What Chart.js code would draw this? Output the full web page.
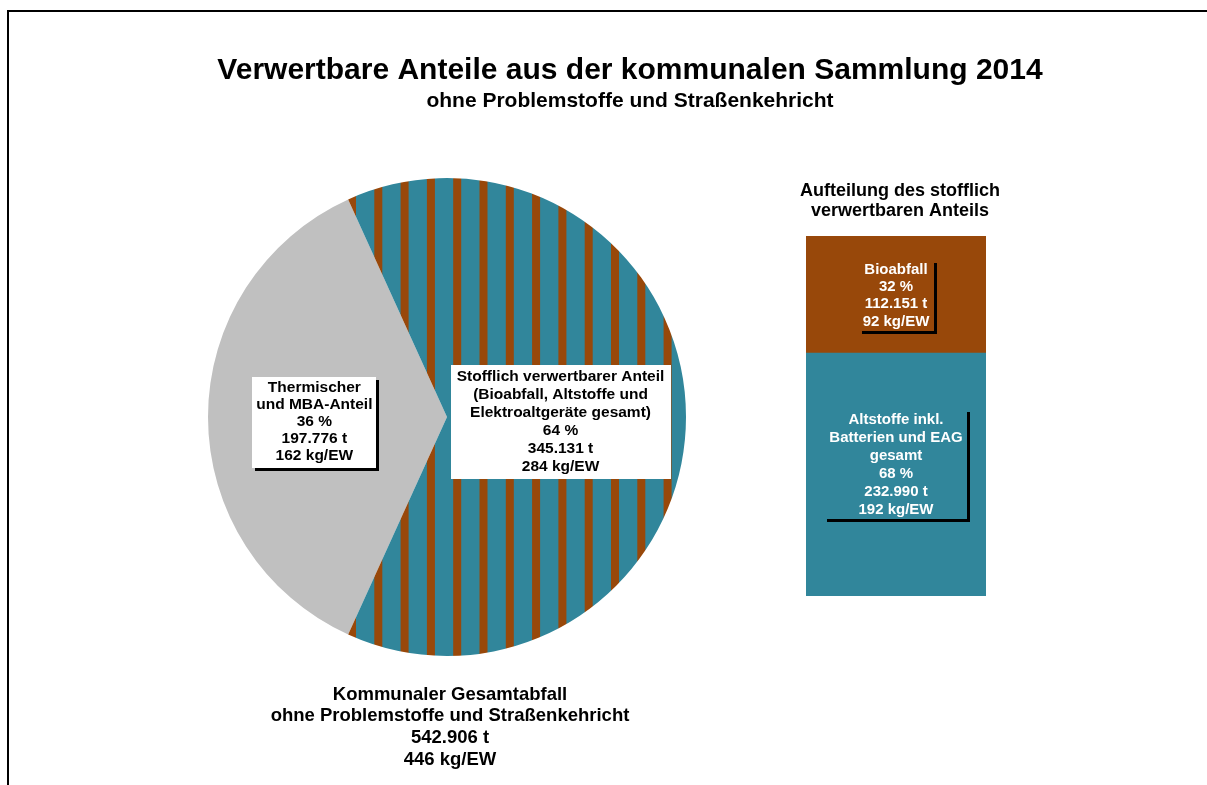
<!DOCTYPE html>
<html>
<head>
<meta charset="utf-8">
<title>Verwertbare Anteile aus der kommunalen Sammlung 2014</title>
<script src="https://cdn.jsdelivr.net/npm/chart.js"></script>
<style>
  body { margin: 0; background: #fff; }
  #pieChart { position: absolute; left: 0; top: 0; }
  #barChart { position: absolute; left: 790px; top: 170px; }
</style>
</head>
<body>
<canvas id="pieChart" width="1207" height="785"></canvas>
<canvas id="barChart" width="220" height="440"></canvas>
<script>
// --- data ---
const titleText = "Verwertbare Anteile aus der kommunalen Sammlung 2014";
const subtitleText = "ohne Problemstoffe und Straßenkehricht";

const pieNames = [
	["Thermischer", "und MBA-Anteil"],
	["Stofflich verwertbarer Anteil", "(Bioabfall, Altstoffe und", "Elektroaltgeräte gesamt)"],
];
const pieTonnes = [197776, 345131];
const piePercent = [36, 64];
const pieKgEW = [162, 284];

const totalName = ["Kommunaler Gesamtabfall", "ohne Problemstoffe und Straßenkehricht"];
const totalTonnes = 542906;
const totalKgEW = 446;

const barHeading = ["Aufteilung des stofflich", "verwertbaren Anteils"];
const barNames = [["Altstoffe inkl.", "Batterien und EAG", "gesamt"], ["Bioabfall"]];
const barTonnes = [232990, 112151];
const barPercent = [68, 32];
const barKgEW = [192, 92];

// --- styles ---
const TEAL = "rgb(49, 134, 155)";
const BROWN = "rgb(152, 72, 10)";
const GREY = "rgb(192, 192, 192)";
const FONT = "'Liberation Sans', Arial, sans-serif";

function fmt(n) {
	return String(n).replace(/\B(?=(\d{3})+(?!\d))/g, ".");
}

function labelLines(names, pct, t, kg) {
	return [...names, `${pct} %`, `${fmt(t)} t`, `${kg} kg/EW`];
}

function stripePattern() {
	// vertical brown stripes on teal, period 26.3 px
	const period = 26.3;
	const w = 263;
	const c = document.createElement("canvas");
	c.width = w;
	c.height = 8;
	const g = c.getContext("2d");
	g.fillStyle = TEAL;
	g.fillRect(0, 0, w, 8);
	g.fillStyle = BROWN;
	for (let k = 0; k < 10; k++) {
		const x = (348 + period * k) % w;
		g.fillRect(x, 0, 8, 8);
		if (x + 8 > w) g.fillRect(x - w, 0, 8, 8);
	}
	return g.createPattern(c, "repeat");
}

function drawLines(ctx, lines, cx, cy, lh, color) {
	ctx.fillStyle = color;
	ctx.textAlign = "center";
	ctx.textBaseline = "middle";
	const y0 = cy - ((lines.length - 1) * lh) / 2;
	lines.forEach((l, i) => ctx.fillText(l, cx, y0 + i * lh));
}

function boxFor(ctx, lines, cx, cy, lh, padX, padY) {
	const w = Math.max(...lines.map((l) => ctx.measureText(l).width)) + padX * 2;
	const h = lines.length * lh + padY * 2;
	return { x: Math.round(cx - w / 2), y: Math.round(cy - h / 2), w: Math.round(w), h: Math.round(h) };
}

function drawShadow(ctx, b) {
	ctx.fillStyle = "#000";
	ctx.fillRect(b.x + b.w, b.y + 3, 3, b.h);
	ctx.fillRect(b.x + 3, b.y + b.h, b.w, 3);
}

const pieText = {
	id: "pieText",
	afterDraw(chart) {
		const ctx = chart.ctx;
		ctx.save();
		// frame
		ctx.fillStyle = "#000";
		ctx.fillRect(7, 10, 1200, 2);
		ctx.fillRect(7, 10, 2, 775);

		ctx.font = `bold 30px ${FONT}`;
		drawLines(ctx, [titleText], 630, 71, 0, "#000");
		ctx.font = `bold 21px ${FONT}`;
		drawLines(ctx, [subtitleText], 630, 101, 0, "#000");

		ctx.font = `bold 18.5px ${FONT}`;
		drawLines(ctx, [...totalName, `${fmt(totalTonnes)} t`, `${totalKgEW} kg/EW`], 450, 727, 21.7, "#000");

		// slice labels
		const meta = chart.getDatasetMeta(0);
		const radial = [0.555, 0.475];
		const shadow = [true, false];
		const lh = [17, 18];
		const padX = [4, 6];
		ctx.font = `bold 15.5px ${FONT}`;
		meta.data.forEach((arc, i) => {
			const mid = (arc.startAngle + arc.endAngle) / 2;
			const cx = arc.x + Math.cos(mid) * arc.outerRadius * radial[i];
			const cy = arc.y + Math.sin(mid) * arc.outerRadius * radial[i] + 5;
			const lines = labelLines(pieNames[i], piePercent[i], pieTonnes[i], pieKgEW[i]);
			const b = boxFor(ctx, lines, cx, cy, lh[i], padX[i], 3);
			if (shadow[i]) drawShadow(ctx, b);
			ctx.fillStyle = "#fff";
			ctx.fillRect(b.x, b.y, b.w, b.h);
			drawLines(ctx, lines, cx, cy, lh[i], "#000");
		});
		ctx.restore();
	},
};

const pieCtx = document.getElementById("pieChart").getContext("2d");
const greyShare = pieTonnes[0] / pieTonnes.reduce((a, b) => a + b, 0);

new Chart(pieCtx, {
	type: "pie",
	data: {
		labels: pieNames.map((n) => n.join(" ")),
		datasets: [
			{
				data: pieTonnes,
				backgroundColor: [GREY, stripePattern()],
				borderWidth: 0,
			},
		],
	},
	options: {
		responsive: false,
		animation: false,
		rotation: 270 - (greyShare * 360) / 2,
		layout: { padding: { left: 208, right: 521, top: 178, bottom: 129 } },
		plugins: { legend: { display: false }, tooltip: { enabled: false } },
	},
	plugins: [pieText],
});

const barText = {
	id: "barText",
	afterDraw(chart) {
		const ctx = chart.ctx;
		ctx.save();
		ctx.font = `bold 18px ${FONT}`;
		drawLines(ctx, barHeading, 110, 31, 20.5, "#000");

		const dy = [-10, 1];
		const padX = [5, 4];
		const lh = [18, 17.3];
		ctx.font = `bold 15px ${FONT}`;
		chart.data.datasets.forEach((ds, i) => {
			const bar = chart.getDatasetMeta(i).data[0];
			const cx = bar.x;
			const cy = (bar.y + bar.base) / 2 + dy[i];
			const lines = labelLines(barNames[i], barPercent[i], barTonnes[i], barKgEW[i]);
			const b = boxFor(ctx, lines, cx, cy, lh[i], padX[i], 1);
			drawShadow(ctx, b);
			drawLines(ctx, lines, cx, cy, lh[i], "#fff");
		});
		ctx.restore();
	},
};

new Chart(document.getElementById("barChart").getContext("2d"), {
	type: "bar",
	data: {
		labels: [""],
		datasets: [
			{ label: barNames[0].join(" "), data: [barTonnes[0]], backgroundColor: TEAL },
			{ label: barNames[1].join(" "), data: [barTonnes[1]], backgroundColor: BROWN },
		],
	},
	options: {
		responsive: false,
		animation: false,
		barPercentage: 1,
		categoryPercentage: 1,
		layout: { padding: { left: 16, right: 24, top: 66, bottom: 14 } },
		scales: {
			x: { stacked: true, display: false },
			y: { stacked: true, display: false, min: 0, max: barTonnes[0] + barTonnes[1] },
		},
		plugins: { legend: { display: false }, tooltip: { enabled: false } },
	},
	plugins: [barText],
});
</script>
</body>
</html>
